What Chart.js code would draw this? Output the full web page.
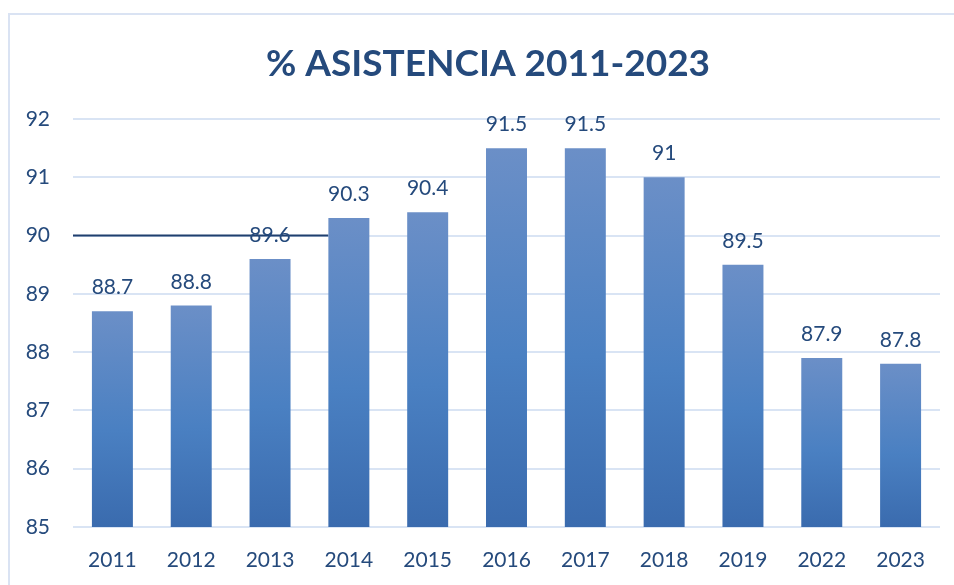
<!DOCTYPE html>
<html>
<head>
<meta charset="utf-8">
<script src="https://cdn.jsdelivr.net/npm/chart.js@4.4.0/dist/chart.umd.min.js"></script>
<style>
    body { margin: 0; background: #ffffff; }
</style>
</head>
<body>
<canvas id="chartAsistencia" width="954" height="585"></canvas>
<script>
var years = ['2011', '2012', '2013', '2014', '2015', '2016', '2017', '2018', '2019', '2022', '2023'];
var asistencia = [88.7, 88.8, 89.6, 90.3, 90.4, 91.5, 91.5, 91, 89.5, 87.9, 87.8];
var yTicks = [85, 86, 87, 88, 89, 90, 91, 92];
var titleText = '% ASISTENCIA 2011-2023';

var textColor = '#254a7c';
var gridColor = '#d9e4f4';

// gradient for each bar, light on top, darker at the base
function barGradient(context) {
    var chart = context.chart;
    var y = chart.scales.y;
    if (!chart.chartArea || !y) {
        return '#4a80c2';
    }
    var top = y.getPixelForValue(context.raw);
    var bottom = y.getPixelForValue(yTicks[0]);
    if (!isFinite(top) || !isFinite(bottom) || top === bottom) {
        return '#4a80c2';
    }
    var g = chart.ctx.createLinearGradient(0, top, 0, bottom);
    g.addColorStop(0, '#6b8fc7');
    g.addColorStop(0.55, '#4a80c2');
    g.addColorStop(1, '#3a6bae');
    return g;
}

var framePlugin = {
    id: 'frame',
    beforeDraw: function (chart) {
        var ctx = chart.ctx;
        ctx.save();
        ctx.strokeStyle = '#dae3f3';
        ctx.lineWidth = 2;
        ctx.beginPath();
        ctx.moveTo(9, chart.height);
        ctx.lineTo(9, 14);
        ctx.lineTo(chart.width, 14);
        ctx.stroke();
        // title
        ctx.fillStyle = textColor;
        ctx.font = 'bold 37px Lato';
        ctx.textAlign = 'center';
        ctx.textBaseline = 'alphabetic';
        ctx.fillText(titleText, 488, 76);
        ctx.restore();
    }
};

// dark segment at 90 that runs up to the 2014 bar
var line90Plugin = {
    id: 'line90',
    beforeDatasetsDraw: function (chart) {
        var meta = chart.getDatasetMeta(0);
        var bar = meta.data[3];
        var ctx = chart.ctx;
        var y = chart.scales.y.getPixelForValue(90);
        ctx.save();
        ctx.strokeStyle = '#1f3f6e';
        ctx.lineWidth = 2;
        ctx.beginPath();
        ctx.moveTo(chart.chartArea.left, y);
        ctx.lineTo(bar.x - bar.width / 2, y);
        ctx.stroke();
        ctx.restore();
    }
};

var valueLabels = {
    id: 'valueLabels',
    afterDatasetsDraw: function (chart) {
        var ctx = chart.ctx;
        var meta = chart.getDatasetMeta(0);
        ctx.save();
        ctx.fillStyle = textColor;
        ctx.font = '21px Lato';
        ctx.textAlign = 'center';
        ctx.textBaseline = 'alphabetic';
        meta.data.forEach(function (bar, i) {
            ctx.fillText(String(asistencia[i]), bar.x, bar.y - 17);
        });
        ctx.restore();
    }
};

var ctx = document.getElementById('chartAsistencia').getContext('2d');
var chartAsistencia = new Chart(ctx, {
    type: 'bar',
    data: {
        labels: years,
        datasets: [{
            data: asistencia,
            backgroundColor: barGradient,
            borderWidth: 0,
            categoryPercentage: 1,
            barPercentage: 0.52
        }]
    },
    options: {
        responsive: false,
        animation: false,
        layout: {
            padding: { left: 0, right: 14, top: 119, bottom: 12 }
        },
        plugins: {
            legend: { display: false },
            tooltip: { enabled: false },
            title: { display: false }
        },
        scales: {
            x: {
                afterFit: function (scale) { scale.height = 46; },
                grid: { display: false, drawTicks: false },
                border: { display: false },
                ticks: {
                    color: textColor,
                    font: { family: 'Lato', size: 21 },
                    padding: 21
                }
            },
            y: {
                min: 85,
                max: 92,
                afterFit: function (scale) { scale.width = 73; },
                afterBuildTicks: function (scale) {
                    scale.ticks = yTicks.map(function (v) { return { value: v }; });
                },
                grid: { color: gridColor, lineWidth: 2, drawTicks: false },
                border: { display: false },
                ticks: {
                    color: textColor,
                    font: { family: 'Lato', size: 21 },
                    padding: 23
                }
            }
        }
    },
    plugins: [framePlugin, line90Plugin, valueLabels]
});
</script>
</body>
</html>
